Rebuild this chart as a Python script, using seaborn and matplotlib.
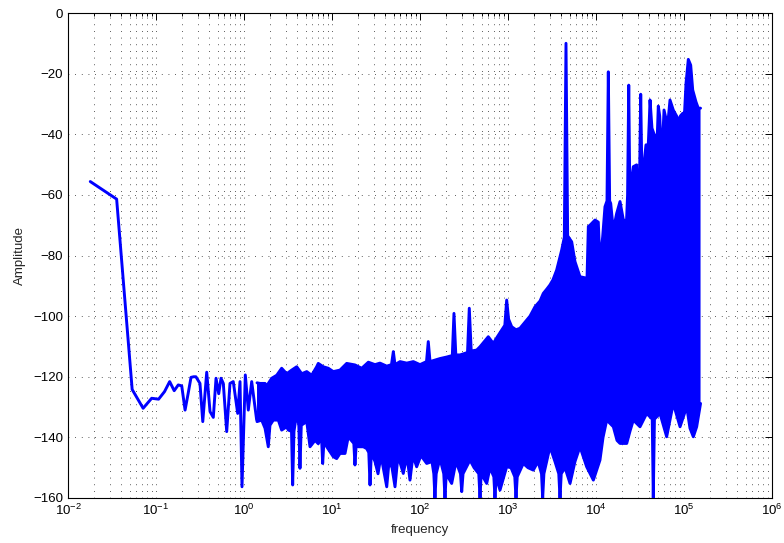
import numpy as np
import pandas as pd
import matplotlib
matplotlib.use("Agg")
import matplotlib.pyplot as plt
from matplotlib.ticker import LogLocator, FixedLocator, NullFormatter
import seaborn as sns

# ---------------------------------------------------------------------------
# Spectrum data
# ---------------------------------------------------------------------------
# Resolved low-frequency bins (Hz, dB)
low_freq = [0.0179, 0.0357, 0.0536, 0.0714, 0.0893, 0.107, 0.125, 0.143,
            0.161, 0.179, 0.196, 0.214, 0.232, 0.250, 0.268, 0.284, 0.316,
            0.340, 0.377, 0.411, 0.448, 0.481, 0.516, 0.548, 0.582, 0.636,
            0.693, 0.755, 0.848, 0.901, 0.949, 1.035, 1.119, 1.223, 1.393]
low_amp = [-55.6, -61.4, -124.2, -130.4, -127.1, -127.4, -124.9, -121.6,
           -124.6, -122.7, -123.0, -131.0, -125.5, -120.2, -120.0, -120.0,
           -122.2, -134.8, -118.5, -131.5, -133.4, -120.5, -125.6, -120.5,
           -122.2, -138.1, -122.2, -121.6, -132.1, -121.6, -156.3, -119.4,
           -131.0, -121.6, -134.3]

# Dense part of the spectrum: upper envelope (frequency as log10 Hz, dB)
upper_logf = [0.148, 0.182, 0.239, 0.258, 0.315, 0.372, 0.428, 0.485, 0.542,
              0.599, 0.656, 0.713, 0.769, 0.826, 0.844, 0.901, 0.958, 1.015,
              1.091, 1.167, 1.261, 1.338, 1.413, 1.489, 1.545, 1.622, 1.676,
              1.697, 1.716, 1.773, 1.849, 1.924, 2.000, 2.074, 2.094, 2.114,
              2.227, 2.303, 2.367, 2.386, 2.407, 2.455, 2.540, 2.560, 2.582,
              2.644, 2.682, 2.776, 2.833, 2.875, 2.928, 2.964, 2.985, 3.007,
              3.042, 3.091, 3.136, 3.213, 3.250, 3.307, 3.364, 3.401, 3.443,
              3.477, 3.511, 3.553, 3.610, 3.640, 3.659, 3.678, 3.724, 3.761,
              3.818, 3.864, 3.898, 3.913, 3.932, 3.989, 4.026, 4.045, 4.076,
              4.102, 4.125, 4.140, 4.155, 4.167, 4.197, 4.235, 4.273, 4.311,
              4.347, 4.359, 4.372, 4.384, 4.394, 4.424, 4.462, 4.481, 4.495,
              4.508, 4.520, 4.538, 4.568, 4.594, 4.605, 4.614, 4.636, 4.670,
              4.697, 4.708, 4.724, 4.739, 4.761, 4.773, 4.803, 4.824, 4.841,
              4.878, 4.909, 4.935, 4.945, 4.958, 4.985, 5.006, 5.023, 5.049,
              5.076, 5.099, 5.136, 5.162, 5.188]
upper_amp = [-122.0, -122.2, -122.2, -123.0, -120.5, -119.5, -117.2, -119.0,
             -117.8, -116.7, -119.0, -118.3, -119.5, -116.7, -115.6, -116.7,
             -117.2, -118.3, -117.8, -115.6, -116.1, -117.2, -115.2, -116.0,
             -115.5, -116.5, -116.0, -111.7, -116.0, -115.0, -115.5, -115.0,
             -116.0, -115.0, -108.4, -115.0, -114.0, -113.5, -113.0, -99.1,
             -112.8, -112.8, -112.0, -97.4, -111.5, -111.2, -110.1, -106.8,
             -109.0, -107.0, -104.6, -103.0, -94.7, -101.0, -103.5, -104.5,
             -104.0, -101.3, -100.0, -96.9, -95.0, -92.5, -91.0, -89.7,
             -88.0, -84.8, -78.2, -74.0, -10.0, -73.5, -75.5, -82.0, -87.0,
             -87.3, -87.5, -70.4, -70.0, -68.3, -69.0, -82.6, -73.8, -63.9,
             -62.0, -19.4, -62.0, -62.8, -71.6, -66.1, -62.2, -68.3, -68.5,
             -60.0, -23.8, -58.0, -57.3, -50.7, -50.1, -68.3, -55.0, -26.8,
             -50.0, -51.8, -43.5, -43.5, -36.0, -28.7, -38.0, -40.8, -40.0,
             -30.7, -34.0, -43.5, -40.0, -32.0, -35.9, -34.0, -28.7, -32.0,
             -33.6, -35.0, -45.0, -34.0, -33.1, -33.0, -23.2, -15.3, -17.2,
             -25.4, -29.3, -31.4, -31.4]

# Dense part of the spectrum: lower envelope (frequency as log10 Hz, dB)
lower_logf = [0.148, 0.201, 0.239, 0.276, 0.295, 0.333, 0.390, 0.428, 0.485,
              0.503, 0.540, 0.553, 0.568, 0.599, 0.623, 0.636, 0.651, 0.713,
              0.750, 0.807, 0.844, 0.881, 0.894, 0.909, 0.940, 1.015, 1.053,
              1.091, 1.148, 1.185, 1.248, 1.261, 1.276, 1.299, 1.356, 1.394,
              1.418, 1.432, 1.447, 1.489, 1.523, 1.557, 1.622, 1.648, 1.682,
              1.716, 1.750, 1.810, 1.852, 1.886, 1.920, 1.962, 2.011, 2.076,
              2.136, 2.157, 2.170, 2.184, 2.227, 2.270, 2.284, 2.298, 2.360,
              2.409, 2.460, 2.474, 2.489, 2.568, 2.614, 2.668, 2.682, 2.695,
              2.758, 2.795, 2.839, 2.852, 2.866, 2.909, 2.985, 3.034, 3.077,
              3.091, 3.105, 3.174, 3.227, 3.288, 3.341, 3.381, 3.394, 3.408,
              3.477, 3.534, 3.577, 3.591, 3.605, 3.648, 3.705, 3.761, 3.818,
              3.894, 3.970, 4.045, 4.080, 4.122, 4.197, 4.239, 4.273, 4.349,
              4.386, 4.424, 4.500, 4.576, 4.639, 4.651, 4.664, 4.727, 4.803,
              4.878, 4.955, 5.031, 5.068, 5.106, 5.144, 5.188]
lower_amp = [-134.8, -134.3, -137.0, -143.1, -136.0, -134.3, -134.3, -137.6,
             -136.5, -137.6, -138.0, -155.7, -138.0, -132.0, -136.0, -150.2,
             -136.0, -134.8, -143.1, -141.0, -142.1, -140.0, -148.6, -141.0,
             -143.1, -146.4, -147.0, -145.3, -145.3, -139.8, -142.0, -149.1,
             -142.0, -143.1, -143.1, -143.7, -145.0, -155.7, -145.0, -148.0,
             -152.0, -146.0, -156.3, -148.0, -150.0, -156.3, -146.0, -151.9,
             -146.0, -154.1, -146.0, -149.7, -146.0, -148.6, -148.0, -152.0,
             -160.0, -152.0, -147.0, -152.0, -160.0, -152.0, -155.2, -148.0,
             -152.0, -157.9, -152.0, -147.5, -150.0, -152.0, -160.0, -152.0,
             -155.2, -150.0, -153.0, -160.0, -153.0, -157.4, -149.7, -150.0,
             -153.0, -160.0, -153.0, -148.6, -150.0, -150.8, -148.0, -152.0,
             -160.0, -152.0, -143.1, -148.0, -152.0, -160.0, -152.0, -150.0,
             -155.2, -148.0, -143.1, -149.7, -154.1, -147.5, -140.0, -134.3,
             -136.5, -141.0, -142.0, -142.0, -138.0, -134.3, -136.5, -132.1,
             -134.0, -160.0, -134.0, -132.1, -139.8, -128.8, -136.5, -129.9,
             -137.0, -139.8, -136.5, -128.8]

upper_freq = 10.0 ** np.asarray(upper_logf)
lower_freq = 10.0 ** np.asarray(lower_logf)

low_df = pd.DataFrame({"frequency": low_freq, "Amplitude": low_amp})
upper_df = pd.DataFrame({"frequency": upper_freq, "Amplitude": upper_amp})
lower_df = pd.DataFrame({"frequency": lower_freq, "Amplitude": lower_amp})

# ---------------------------------------------------------------------------
# Styling
# ---------------------------------------------------------------------------
sns.set_style("white")
plt.rcParams["font.family"] = ["Liberation Sans", "DejaVu Sans"]
plt.rcParams["mathtext.fontset"] = "custom"
plt.rcParams["mathtext.rm"] = "Liberation Sans"
plt.rcParams["mathtext.it"] = "Liberation Sans:italic"
plt.rcParams["mathtext.bf"] = "Liberation Sans:bold"

fig = plt.figure(figsize=(7.84, 5.43), dpi=100)
ax = fig.add_axes([68 / 784, 45 / 543, 704 / 784, 485 / 543])
ax.set_xscale("log")

line_color = (0.0, 0.0, 1.0)
lw = 2.1

# Filled band of the dense spectrum plus its jagged edges
ax.fill(np.concatenate([upper_freq, lower_freq[::-1]]),
        np.concatenate([upper_amp, lower_amp[::-1]]),
        color=line_color, lw=0, zorder=2)
for df in (low_df, upper_df, lower_df):
    sns.lineplot(data=df, x="frequency", y="Amplitude", ax=ax,
                 color=line_color, lw=lw, sort=False, estimator=None,
                 zorder=3)

ax.set_xlim(1e-2, 1e6)
ax.set_ylim(-160, 0)
ax.yaxis.set_major_locator(FixedLocator(np.arange(-160, 1, 20)))
ax.xaxis.set_major_locator(LogLocator(base=10, numticks=20))
ax.xaxis.set_minor_locator(LogLocator(base=10, subs=np.arange(2, 10),
                                      numticks=100))
ax.xaxis.set_minor_formatter(NullFormatter())

ax.tick_params(which="both", direction="in", top=True, right=True,
               colors="black", labelsize=9.5, width=0.7)
ax.tick_params(which="major", length=5)
ax.tick_params(which="minor", length=2.5)

grid_kw = dict(color="0.15", linestyle=(0, (1, 7)), linewidth=0.6)
ax.grid(which="major", axis="both", **grid_kw)
ax.xaxis.grid(which="minor", **grid_kw)

for spine in ax.spines.values():
    spine.set_color("black")
    spine.set_linewidth(0.8)

ax.set_xlabel("frequency", fontsize=9.5, labelpad=4)
ax.set_ylabel("Amplitude", fontsize=9.5, labelpad=5)

fig.savefig("out.png", dpi=100)
